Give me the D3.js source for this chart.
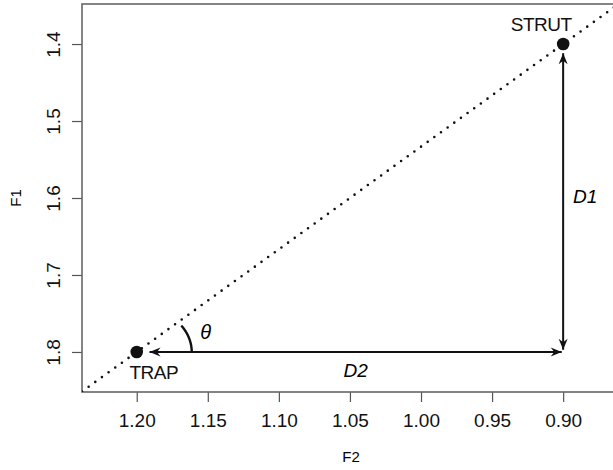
<!DOCTYPE html>
<html>
<head>
<meta charset="utf-8">
<script src="https://cdn.jsdelivr.net/npm/d3@7"></script>
<style>
  body { margin: 0; background: #fff; }
  svg { display: block; font-family: "Liberation Sans", Arial, sans-serif; }
  .axis text { font-size: 19px; fill: #111; }
  .axis line { stroke: #555; stroke-width: 1.2; }
</style>
</head>
<body>
<div id="graph"></div>
<script>
// formant space, F2 and F1 reversed
const X_TICKS = [1.20, 1.15, 1.10, 1.05, 1.00, 0.95, 0.90];
const Y_TICKS = [1.4, 1.5, 1.6, 1.7, 1.8];

const POINT_NAMES = ["TRAP", "STRUT"];
const POINT_F2 = [1.20, 0.90];
const POINT_F1 = [1.80, 1.40];

// arrows stop just short of the points
const ARROW_D2 = [[1.191, 1.80], [0.901, 1.80]];
const ARROW_D1 = [[0.90, 1.797], [0.90, 1.412]];

const W = 613, H = 470;
const plot = {left: 82, top: 4, right: 620, bottom: 392};

var x = d3.scaleLinear().domain([1.2385, 0.86]).range([plot.left, plot.right]);
var y = d3.scaleLinear().domain([1.348, 1.852]).range([plot.top, plot.bottom]);

const svg = d3.select("#graph").append("svg")
    .attr("width", W)
    .attr("height", H);

const defs = svg.append("defs");
defs.append("clipPath").attr("id", "plotclip")
  .append("rect")
    .attr("x", plot.left).attr("y", plot.top)
    .attr("width", plot.right - plot.left).attr("height", plot.bottom - plot.top);

defs.append("marker")
    .attr("id", "head")
    .attr("viewBox", "-12 -6 13 12")
    .attr("refX", 0).attr("refY", 0)
    .attr("markerWidth", 13).attr("markerHeight", 12)
    .attr("markerUnits", "userSpaceOnUse")
    .attr("orient", "auto-start-reverse")
  .append("path")
    .attr("d", "M0,0 L-11,-4.5 L-7.5,0 L-11,4.5 Z")
    .style("fill", "#111");

// axes
const xAxis = d3.axisBottom(x).tickValues(X_TICKS).tickFormat(d3.format(".2f"))
    .tickSize(10).tickSizeOuter(0);
const gx = svg.append("g")
    .attr("class", "axis")
    .attr("transform", "translate(0," + plot.bottom + ")")
    .call(xAxis);
gx.select(".domain").remove();
gx.selectAll("text").attr("y", 35).attr("dy", null);

const yAxis = d3.axisLeft(y).tickValues(Y_TICKS).tickFormat(d3.format(".1f"))
    .tickSize(10).tickSizeOuter(0);
const gy = svg.append("g")
    .attr("class", "axis")
    .attr("transform", "translate(" + plot.left + ",0)")
    .call(yAxis);
gy.select(".domain").remove();
gy.selectAll("text")
    .attr("x", null).attr("dy", null)
    .attr("text-anchor", "middle")
    .attr("transform", "translate(-22,0) rotate(-90)");

// axis titles
svg.append("text")
    .attr("x", (plot.left + plot.right) / 2)
    .attr("y", 462)
    .attr("text-anchor", "middle")
    .style("font-size", "15px")
    .text("F2");

svg.append("text")
    .attr("transform", "translate(20.5," + ((plot.top + plot.bottom) / 2) + ") rotate(-90)")
    .attr("text-anchor", "middle")
    .style("font-size", "15px")
    .text("F1");

// box
svg.append("rect")
    .attr("x", plot.left).attr("y", plot.top)
    .attr("width", plot.right - plot.left).attr("height", plot.bottom - plot.top)
    .style("fill", "none")
    .style("stroke", "#666")
    .style("stroke-width", 1.6);

// dotted line through both vowels
const slope = (POINT_F1[1] - POINT_F1[0]) / (POINT_F2[1] - POINT_F2[0]);
const lineAt = (f2) => POINT_F1[0] + slope * (f2 - POINT_F2[0]);
const dom = x.domain();
svg.append("line")
    .attr("clip-path", "url(#plotclip)")
    .attr("x1", x(dom[0])).attr("y1", y(lineAt(dom[0])))
    .attr("x2", x(dom[1])).attr("y2", y(lineAt(dom[1])))
    .style("stroke", "#111")
    .style("stroke-width", 2.6)
    .style("stroke-linecap", "round")
    .style("stroke-dasharray", "0,8.2");

// arrows D1 and D2
const draw_arrow = (pts) => {
  svg.append("line")
      .attr("x1", x(pts[0][0])).attr("y1", y(pts[0][1]))
      .attr("x2", x(pts[1][0])).attr("y2", y(pts[1][1]))
      .attr("marker-start", "url(#head)")
      .attr("marker-end", "url(#head)")
      .style("stroke", "#111")
      .style("stroke-width", 2);
}
draw_arrow(ARROW_D2);
draw_arrow(ARROW_D1);

// theta arc at TRAP, from the horizontal up to the dotted line
const cx = x(POINT_F2[0]), cy = y(POINT_F1[0]);
const ang = Math.atan2(cy - y(POINT_F1[1]), x(POINT_F2[1]) - cx);
const arcPts = d3.range(0, 41).map((i) => {
  const a = ang * i / 40;
  return [cx + 55 * Math.cos(a), cy - 45 * Math.sin(a)];
});
svg.append("path")
    .attr("d", d3.line()(arcPts))
    .style("fill", "none")
    .style("stroke", "#111")
    .style("stroke-width", 2.4);

// vowel points
svg.selectAll("circle.pt")
    .data(POINT_NAMES)
  .enter().append("circle")
    .attr("class", "pt")
    .attr("cx", (d, i) => x(POINT_F2[i]))
    .attr("cy", (d, i) => y(POINT_F1[i]))
    .attr("r", 6.3)
    .style("fill", "#111");

const labelOffsets = [[17, 27], [-22, -13]];
svg.selectAll("text.pt")
    .data(POINT_NAMES)
  .enter().append("text")
    .attr("class", "pt")
    .attr("x", (d, i) => x(POINT_F2[i]) + labelOffsets[i][0])
    .attr("y", (d, i) => y(POINT_F1[i]) + labelOffsets[i][1])
    .attr("text-anchor", "middle")
    .style("font-size", "19px")
    .style("letter-spacing", "-0.5px")
    .style("fill", "#111")
    .text((d) => d);

// distance labels
svg.append("text")
    .attr("x", (x(ARROW_D2[0][0]) + x(ARROW_D2[1][0])) / 2)
    .attr("y", y(ARROW_D2[0][1]) + 25)
    .attr("text-anchor", "middle")
    .style("font-size", "19px")
    .style("font-style", "italic")
    .text("D2");

svg.append("text")
    .attr("x", x(ARROW_D1[0][0]) + 22)
    .attr("y", (y(ARROW_D1[0][1]) + y(ARROW_D1[1][1])) / 2 + 2)
    .attr("text-anchor", "middle")
    .style("font-size", "19px")
    .style("font-style", "italic")
    .text("D1");

svg.append("text")
    .attr("x", cx + 69)
    .attr("y", cy - 13)
    .attr("text-anchor", "middle")
    .style("font-size", "20px")
    .style("font-style", "italic")
    .text("θ");
</script>
</body>
</html>
